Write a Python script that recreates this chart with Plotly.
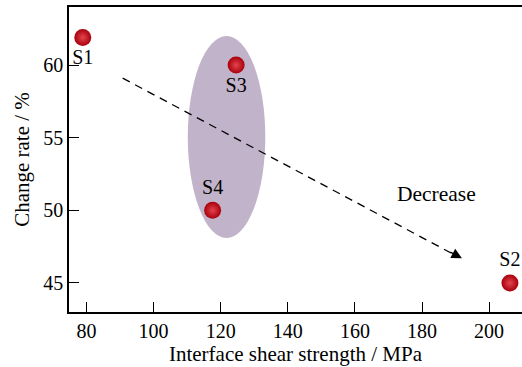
import plotly.graph_objects as go

# Data
samples = ["S1", "S2", "S3", "S4"]
shear_strength = [78.9, 206.2, 124.6, 117.6]   # MPa
change_rate = [61.9, 45.0, 60.0, 50.0]          # %
label_pos = ["bottom center", "top center", "bottom center", "top center"]

x_ticks = [80, 100, 120, 140, 160, 180, 200]
y_ticks = [45, 50, 55, 60]

FONT = "Liberation Serif"

fig = go.Figure()

fig.add_trace(go.Scatter(
    x=shear_strength, y=change_rate, mode="markers+text",
    text=samples, textposition=label_pos,
    textfont=dict(family=FONT, size=20, color="black"),
    marker=dict(size=17, color="#a8000c",
                gradient=dict(type="radial", color="#e3444e"),
                line=dict(width=0)),
    cliponaxis=False, showlegend=False, hoverinfo="skip",
))

# Ellipse grouping S3 and S4
fig.add_shape(type="circle", xref="x", yref="y",
              x0=110.2, x1=133.3, y0=48.1, y1=62.0,
              fillcolor="#c1b3c9", line=dict(width=0), layer="below")

# Dashed trend arrow
fig.add_shape(type="line", xref="x", yref="y",
              x0=90.8, y0=59.1, x1=190.0, y1=46.9,
              line=dict(color="black", width=1.3, dash="8px,6px"))
fig.add_annotation(x=191.9, y=46.7, ax=188.0, ay=47.18, xref="x", yref="y",
                   axref="x", ayref="y", showarrow=True, arrowhead=2,
                   arrowsize=1.6, arrowwidth=1.3, arrowcolor="black", text="")
fig.add_annotation(x=184.3, y=51.1, xref="x", yref="y", text="Decrease",
                   showarrow=False, font=dict(family=FONT, size=21.5, color="black"))

axis_common = dict(showgrid=False, zeroline=False, showline=True,
                   linecolor="black", linewidth=1.5, ticks="inside",
                   ticklen=10, tickwidth=1.3, tickcolor="black",
                   tickfont=dict(family=FONT, size=20, color="black"))

fig.update_xaxes(range=[74.8, 209.8], tickvals=x_ticks, mirror=True,
                 title=dict(text="Interface shear strength / MPa",
                            font=dict(family=FONT, size=21, color="black"),
                            standoff=4),
                 **axis_common)
fig.update_yaxes(range=[43.0, 64.0], tickvals=y_ticks,
                 title=dict(text="Change rate / %",
                            font=dict(family=FONT, size=21, color="black"),
                            standoff=8),
                 **axis_common)

fig.update_layout(width=522, height=367,
                  margin=dict(l=69, r=0, t=7, b=55),
                  plot_bgcolor="white", paper_bgcolor="white")

fig.write_html("out.html", config={"displayModeBar": False})

# remove the default page margin so the figure sits at the window's corner
with open("out.html", encoding="utf-8") as f:
    html = f.read()
html = html.replace("<head>", "<head><style>html,body{margin:0;padding:0;overflow:hidden}</style>", 1)
with open("out.html", "w", encoding="utf-8") as f:
    f.write(html)
